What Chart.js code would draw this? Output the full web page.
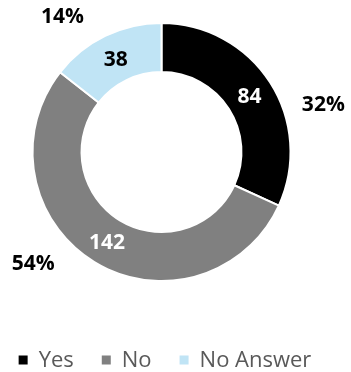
<!DOCTYPE html>
<html>
<head>
<meta charset="utf-8">
<script src="https://cdn.jsdelivr.net/npm/chart.js@4.4.0/dist/chart.umd.min.js"></script>
<style>
  html, body { margin: 0; padding: 0; background: #fff; }
  #wrap { position: relative; width: 351px; height: 372px; }
</style>
</head>
<body>
<div id="wrap"><canvas id="chart_answers"></canvas></div>
<script>
const categories = ["Yes", "No", "No Answer"];
const answerCnt = [84, 142, 38];
const sliceColors = ['#000000', '#808080', '#c0e4f5'];
const valueColors = ['#ffffff', '#ffffff', '#000000'];

// how far (degrees, clockwise) the % label sits from the slice middle
const pctOffsetDeg = [16, 18, -10];

const total = answerCnt.reduce((a, b) => a + b, 0);

const labelPlugin = {
	id: 'sliceLabels',
	afterDatasetsDraw(chart) {
		const ctx = chart.ctx;
		const meta = chart.getDatasetMeta(0);
		ctx.save();
		ctx.font = 'bold 21px "Open Sans"';
		ctx.textAlign = 'center';
		ctx.textBaseline = 'middle';
		meta.data.forEach(function(arc, i){
			const p = arc.tooltipPosition();
			ctx.fillStyle = valueColors[i];
			ctx.fillText(answerCnt[i], p.x, p.y + 2);

			const a = arc.getProps(['x', 'y', 'startAngle', 'endAngle', 'outerRadius'], true);
			const ang = (a.startAngle + a.endAngle) / 2 + pctOffsetDeg[i] * Math.PI / 180;
			const r = a.outerRadius * 1.31;
			ctx.fillStyle = '#000000';
			ctx.fillText(Math.round(answerCnt[i] / total * 100) + '%', a.x + Math.cos(ang) * r, a.y + Math.sin(ang) * r + 2);
		});
		ctx.restore();
	}
};

const legendPlugin = {
	id: 'bottomLegend',
	afterDraw(chart) {
		const ctx = chart.ctx;
		const box = 9, gapText = 11, gapItem = 28, cy = 360;
		ctx.save();
		ctx.font = '22px "Open Sans"';
		ctx.textBaseline = 'middle';
		ctx.textAlign = 'left';
		const widths = categories.map(t => box + gapText + ctx.measureText(t).width);
		const full = widths.reduce((a, b) => a + b, 0) + gapItem * (categories.length - 1);
		let x = 165 - full / 2;
		categories.forEach(function(t, i){
			ctx.fillStyle = sliceColors[i];
			ctx.fillRect(x, cy - box / 2, box, box);
			ctx.fillStyle = '#595959';
			ctx.fillText(t, x + box + gapText, cy + 1);
			x += widths[i] + gapItem;
		});
		ctx.restore();
	}
};

const chart_answers = new Chart(document.getElementById('chart_answers').getContext('2d'), {
	type: 'doughnut',
	data: {
		labels: categories,
		datasets: [{
			data: answerCnt,
			backgroundColor: sliceColors,
			borderColor: '#ffffff',
			borderWidth: 2
		}]
	},
	options: {
		responsive: true,
		maintainAspectRatio: false,
		animation: false,
		cutout: '62%',
		layout: { padding: { top: 22, bottom: 90, left: 31, right: 59 } },
		plugins: {
			legend: { display: false },
			tooltip: { enabled: false }
		}
	},
	plugins: [labelPlugin, legendPlugin]
});
</script>
</body>
</html>
